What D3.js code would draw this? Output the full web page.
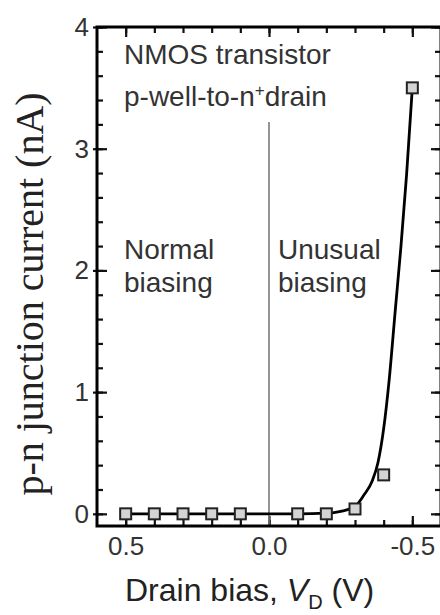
<!DOCTYPE html>
<html>
<head>
<meta charset="utf-8">
<script src="https://cdn.jsdelivr.net/npm/d3@7"></script>
<style>
  html, body { margin: 0; padding: 0; background: #fff; }
  svg { display: block; }
  .tick text { font-family: "Liberation Sans", Arial, sans-serif; font-size: 26px; fill: #333; }
</style>
</head>
<body>
<svg id="chart" width="440" height="615"></svg>
<script>
// Measured junction current (nA) vs drain bias (V)
const pointV = [0.5, 0.4, 0.3, 0.2, 0.1, -0.1, -0.2, -0.3, -0.4, -0.5];
const pointI = [0, 0, 0, 0, 0, 0, 0, 0.04, 0.32, 3.5];

// Fitted curve through the measurements
const curveV = [0.5, 0.4, 0.3, 0.2, 0.1, 0.0, -0.1, -0.2, -0.25, -0.3, -0.33, -0.36, -0.38, -0.4, -0.42, -0.44, -0.46, -0.48, -0.5];
const curveI = [0, 0, 0, 0, 0, 0, 0, 0.005, 0.02, 0.06, 0.15, 0.27, 0.42, 0.70, 1.12, 1.66, 2.19, 2.79, 3.5];

// Axis ticks
const xMajor = [0.5, 0.0, -0.5];
const xMajorLabels = ["0.5", "0.0", "-0.5"];
const xMinor = [0.5, 0.4, 0.3, 0.2, 0.1, 0.0, -0.1, -0.2, -0.3, -0.4, -0.5];
const yMajor = [0, 1, 2, 3, 4];
const yMajorLabels = ["0", "1", "2", "3", "4"];
const yMinor = [0, 0.2, 0.4, 0.6, 0.8, 1, 1.2, 1.4, 1.6, 1.8, 2, 2.2, 2.4, 2.6, 2.8, 3, 3.2, 3.4, 3.6, 3.8, 4];

// Boundary between the two biasing regimes
const boundaryV = 0.0;
const boundaryTop = 3.22;

const svg = d3.select("#chart");
const L = 97, R = 441, T = 27, B = 526;

const x = d3.scaleLinear().domain([0.6, -0.6]).range([L, R]);
const y = d3.scaleLinear().domain([-0.1, 4]).range([B, T]);

function styleAxis(g) {
  g.select(".domain").remove();
  g.selectAll(".tick line").attr("stroke", "#111").attr("stroke-width", 2.2);
}

// Minor ticks, pointing inward on all four sides
svg.append("g").attr("transform", `translate(0,${B})`)
  .call(d3.axisBottom(x).tickValues(xMinor).tickSize(-6).tickFormat(""))
  .call(styleAxis);
svg.append("g").attr("transform", `translate(0,${T})`)
  .call(d3.axisTop(x).tickValues(xMinor).tickSize(-6).tickFormat(""))
  .call(styleAxis);
svg.append("g").attr("transform", `translate(${L},0)`)
  .call(d3.axisLeft(y).tickValues(yMinor).tickSize(-6).tickFormat(""))
  .call(styleAxis);
svg.append("g").attr("transform", `translate(${R},0)`)
  .call(d3.axisRight(y).tickValues(yMinor).tickSize(-6).tickFormat(""))
  .call(styleAxis);

// Major ticks with labels
svg.append("g").attr("transform", `translate(0,${B})`)
  .call(d3.axisBottom(x).tickValues(xMajor).tickSize(-10).tickPadding(11)
    .tickFormat((d, i) => xMajorLabels[i]))
  .call(styleAxis);
svg.append("g").attr("transform", `translate(0,${T})`)
  .call(d3.axisTop(x).tickValues(xMajor).tickSize(-10).tickFormat(""))
  .call(styleAxis);
svg.append("g").attr("transform", `translate(${L},0)`)
  .call(d3.axisLeft(y).tickValues(yMajor).tickSize(-10).tickPadding(8)
    .tickFormat((d, i) => yMajorLabels[i]))
  .call(styleAxis);
svg.append("g").attr("transform", `translate(${L},0)`)
  .call(d3.axisLeft(y).tickValues(yMajor).tickSize(4).tickFormat(""))
  .call(styleAxis);
svg.append("g").attr("transform", `translate(${R},0)`)
  .call(d3.axisRight(y).tickValues(yMajor).tickSize(-10).tickFormat(""))
  .call(styleAxis);

// Regime boundary
svg.append("line")
  .attr("x1", x(boundaryV)).attr("x2", x(boundaryV))
  .attr("y1", y(boundaryTop)).attr("y2", B)
  .attr("stroke", "#7a7a7a").attr("stroke-width", 1.6);

// Plot frame
svg.append("rect")
  .attr("x", L).attr("y", T).attr("width", R - L).attr("height", B - T)
  .attr("fill", "none").attr("stroke", "#000").attr("stroke-width", 3);

// Fitted curve
const curveData = curveV.map((v, i) => [v, curveI[i]]);
svg.append("path")
  .datum(curveData)
  .attr("fill", "none")
  .attr("stroke", "#000")
  .attr("stroke-width", 2.8)
  .attr("d", d3.line().x(d => x(d[0])).y(d => y(d[1])).curve(d3.curveMonotoneX));

// Measured points
const s = 11;
svg.append("g").selectAll("rect")
  .data(pointV.map((v, i) => [v, pointI[i]]))
  .join("rect")
  .attr("x", d => x(d[0]) - s / 2)
  .attr("y", d => y(d[1]) - s / 2)
  .attr("width", s).attr("height", s)
  .attr("fill", "#d4d4d4")
  .attr("stroke", "#222")
  .attr("stroke-width", 2);

// Annotations
const sans = "'Liberation Sans', Arial, sans-serif";
const ann = svg.append("g").attr("font-family", sans).attr("font-size", 28).attr("fill", "#333");
ann.append("text").attr("x", 124).attr("y", 64).text("NMOS transistor");
const t2 = ann.append("text").attr("x", 124).attr("y", 106);
t2.append("tspan").text("p-well-to-n");
t2.append("tspan").attr("font-size", 17).attr("dy", -10).text("+");
t2.append("tspan").attr("dy", 10).text("drain");
ann.append("text").attr("x", 124).attr("y", 259).text("Normal");
ann.append("text").attr("x", 124).attr("y", 292).text("biasing");
ann.append("text").attr("x", 278).attr("y", 259).text("Unusual");
ann.append("text").attr("x", 278).attr("y", 292).text("biasing");

// Axis titles
const xt = svg.append("text")
  .attr("x", 125).attr("y", 601)
  .attr("font-family", sans).attr("font-size", 32).attr("fill", "#222");
xt.append("tspan").text("Drain bias, ");
xt.append("tspan").attr("font-style", "italic").text("V");
xt.append("tspan").attr("font-size", 20).attr("dx", 0).attr("dy", 8).text("D");
xt.append("tspan").attr("dy", -8).text(" (V)");

svg.append("text")
  .attr("transform", "translate(43,294) rotate(-90)")
  .attr("text-anchor", "middle")
  .attr("font-family", "'Liberation Serif', 'Times New Roman', serif")
  .attr("font-size", 40)
  .attr("fill", "#222")
  .text("p-n junction current (nA)");
</script>
</body>
</html>
